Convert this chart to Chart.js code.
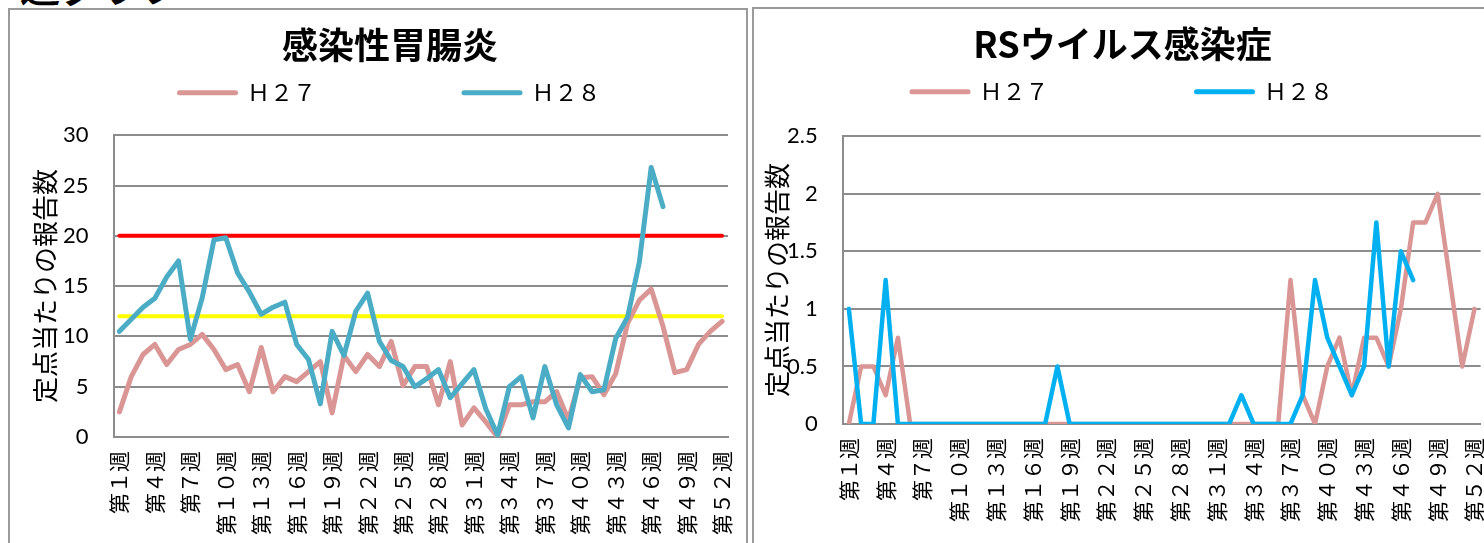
<!DOCTYPE html>
<html lang="ja">
<head>
<meta charset="utf-8">
<script src="https://cdn.jsdelivr.net/npm/chart.js@4.4.1/dist/chart.umd.min.js"></script>
<style>
  html, body { margin: 0; padding: 0; background: #fff; width: 1484px; height: 543px; overflow: hidden; }
  .heading { position: absolute; left: 20px; top: -35px; font: bold 40px "Noto Sans CJK JP"; line-height: 40px; color: #000; white-space: nowrap; }
  .panel { position: absolute; border: 2px solid #9a9a9a; overflow: hidden; background: #fff; }
  #panelLeft { left: 8px; top: 8px; width: 736px; height: 580px; }
  #panelRight { left: 752px; top: 7px; width: 780px; height: 580px; }
  canvas { position: absolute; left: 0; top: 0; }
</style>
</head>
<body>
<div class="heading">週グラフ</div>
<div class="panel" id="panelLeft"><canvas id="gastroChart" width="760" height="549"></canvas></div>
<div class="panel" id="panelRight"><canvas id="rsChart" width="760" height="537"></canvas></div>
<script>
// week labels 第１週 .. 第５２週 (full-width digits)
const zen = n => String(n).replace(/[0-9]/g, d => String.fromCharCode(d.charCodeAt(0) + 0xFEE0));
const weeks = [];
for (let i = 1; i <= 52; i++) weeks.push("第" + zen(i) + "週");

const seriesNames = ["Ｈ２７", "Ｈ２８"];

// 感染性胃腸炎
const gastroH27 = [2.5, 6.0, 8.2, 9.2, 7.2, 8.7, 9.2, 10.2, 8.7, 6.7,
  7.2, 4.5, 8.9, 4.5, 6.0, 5.5, 6.5, 7.5, 2.4, 8.1,
  6.5, 8.2, 7.0, 9.5, 5.1, 7.0, 7.0, 3.2, 7.5, 1.2,
  2.9, 1.5, 0.0, 3.2, 3.2, 3.5, 3.5, 4.5, 1.7, 5.9,
  6.0, 4.2, 6.3, 11.3, 13.6, 14.7, 11.0, 6.4, 6.7, 9.2,
  10.5, 11.5];
const gastroH28 = [10.5, 11.7, 12.9, 13.8, 15.9, 17.5, 9.7, 13.8, 19.6, 19.8,
  16.3, 14.4, 12.2, 12.9, 13.4, 9.2, 7.7, 3.3, 10.5, 8.1,
  12.5, 14.3, 9.5, 7.6, 7.0, 5.0, 5.8, 6.7, 3.9, 5.3,
  6.7, 2.8, 0.2, 5.0, 6.0, 1.9, 7.0, 3.2, 0.9, 6.2,
  4.5, 4.7, 9.8, 11.9, 17.4, 26.8, 22.9];
const gastroAlarm = 20;   // red line
const gastroWarn = 12;    // yellow line

// RSウイルス感染症
const rsH27 = [0, 0.5, 0.5, 0.25, 0.75, 0, 0, 0, 0, 0,
  0, 0, 0, 0, 0, 0, 0, 0, 0, 0,
  0, 0, 0, 0, 0, 0, 0, 0, 0, 0,
  0, 0, 0, 0, 0, 0, 1.25, 0.25, 0, 0.5,
  0.75, 0.25, 0.75, 0.75, 0.5, 1.0, 1.75, 1.75, 2.0, 1.25,
  0.5, 1.0];
const rsH28 = [1.0, 0, 0, 1.25, 0, 0, 0, 0, 0, 0,
  0, 0, 0, 0, 0, 0, 0, 0.5, 0, 0,
  0, 0, 0, 0, 0, 0, 0, 0, 0, 0,
  0, 0, 0.25, 0, 0, 0, 0, 0.25, 1.25, 0.75,
  0.5, 0.25, 0.5, 1.75, 0.5, 1.5, 1.25];

const jp = "'Noto Sans CJK JP', sans-serif";
const num = "Lato, 'Liberation Sans', sans-serif";

function lineSet(label, data, color, width, order) {
  return {
    label: label, data: data, borderColor: color, backgroundColor: color,
    borderWidth: width, pointRadius: 0, tension: 0, order: order,
    borderCapStyle: "round", borderJoinStyle: "round"
  };
}

function makeChart(id, datasets, yMax, yStep, lineW, pad, gap, titleText, yTitlePad) {
  return new Chart(document.getElementById(id), {
    type: "line",
    data: { labels: weeks, datasets: datasets },
    options: {
      responsive: false,
      animation: false,
      layout: { padding: pad },
      plugins: {
        title: {
          display: true, text: titleText, color: "#000",
          font: { family: jp, size: 36, weight: "bold", lineHeight: 1.2 },
          padding: { top: 14, bottom: 4 }
        },
        // empty box under the legend, only for spacing
        subtitle: { display: true, text: "", weight: 500, padding: 0, font: { size: gap, lineHeight: 1 } },
        legend: {
          labels: {
            color: "#000",
            font: { family: jp, size: 23 },
            usePointStyle: true, pointStyle: "line", pointStyleWidth: 56,
            filter: item => item.datasetIndex < 2,
            sort: (a, b) => a.datasetIndex - b.datasetIndex,
            generateLabels: chart => Chart.defaults.plugins.legend.labels.generateLabels(chart).map(item => {
              item.lineWidth = lineW;
              item.lineCap = "round";
              if (item.datasetIndex === 0) item.text = item.text + "\u3000\u3000\u3000\u3000\u3000\u3000";
              return item;
            })
          }
        },
        tooltip: { enabled: false }
      },
      scales: {
        x: {
          offset: true,
          grid: { display: false, drawTicks: false },
          border: { display: true, color: "#8c8c8c", width: 2 },
          ticks: {
            autoSkip: false, minRotation: 90, maxRotation: 90, padding: 14,
            color: "#000", font: { family: jp, size: 21 },
            callback: (v, i) => (i % 3 === 0 ? weeks[i] : "")
          }
        },
        y: {
          min: 0, max: yMax,
          grid: { color: "#8c8c8c", lineWidth: 2, drawTicks: false },
          border: { display: true, color: "#8c8c8c", width: 2 },
          ticks: {
            stepSize: yStep, padding: 25, color: "#000", font: { family: num, size: 22 },
            callback: v => String(v)
          },
          title: {
            display: true, text: "定点当たりの報告数", color: "#000",
            font: { family: jp, size: 26, lineHeight: 1 },
            padding: yTitlePad
          }
        }
      }
    }
  });
}

makeChart("gastroChart", [
  lineSet(seriesNames[0], gastroH27, "#d99694", 5, 1),
  lineSet(seriesNames[1], gastroH28, "#4bacc6", 5, 0),
  lineSet("alarm", weeks.map(() => gastroAlarm), "#ff0000", 4, 3),
  lineSet("warn", weeks.map(() => gastroWarn), "#ffff00", 4, 2)
], 30, 5, 5, { left: 42, right: 42, top: 0, bottom: 10 }, 21, "感染性胃腸炎", { top: -20, bottom: -20 });

makeChart("rsChart", [
  lineSet(seriesNames[0], rsH27, "#d99694", 4.5, 1),
  lineSet(seriesNames[1], rsH28, "#00b0f0", 4.5, 0)
], 2.5, 0.5, 5, { left: 10, right: 33, top: 0, bottom: 10 }, 23, "RSウイルス感染症", { top: 0, bottom: -28 });
</script>
</body>
</html>
